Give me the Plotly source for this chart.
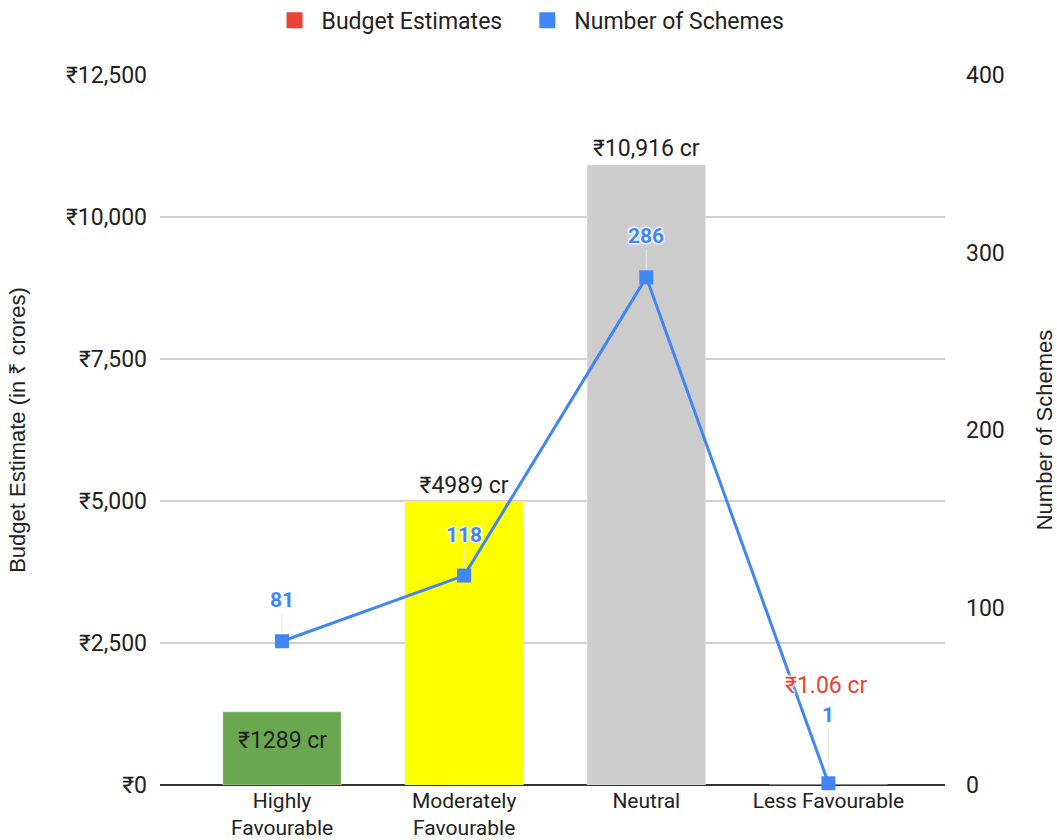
import plotly.graph_objects as go

categories = ["Highly<br>Favourable", "Moderately<br>Favourable", "Neutral", "Less Favourable"]
budget = [1289, 4989, 10916, 1.06]
budget_labels = ["₹1289 cr", "₹4989 cr", "₹10,916 cr", "₹1.06 cr"]
schemes = [81, 118, 286, 1]
bar_colors = ["#6aa84f", "#ffff00", "#cccccc", "#ea4335"]
left_ticks = [0, 2500, 5000, 7500, 10000, 12500]
left_tick_text = ["₹0", "₹2,500", "₹5,000", "₹7,500", "₹10,000", "₹12,500"]
right_ticks = [0, 100, 200, 300, 400]

BLUE = "#4285f4"
RED = "#ea4335"
FONT = "Roboto"
TXT = "#222222"
FS = 23

fig = go.Figure()

fig.add_trace(go.Bar(
    x=categories[:3], y=budget[:3], marker_color=bar_colors[:3],
    width=0.65, text=["", budget_labels[1], budget_labels[2]],
    textposition="outside",
    textfont=dict(family=FONT, size=FS, color=TXT),
    outsidetextfont=dict(family=FONT, size=FS, color=TXT),
    cliponaxis=False, showlegend=False, hoverinfo="skip",
))
fig.add_trace(go.Bar(
    x=categories[3:], y=budget[3:], marker_color=bar_colors[3:],
    width=0.65, showlegend=False, hoverinfo="skip",
))

fig.add_trace(go.Scatter(
    x=categories, y=schemes, yaxis="y2", mode="lines+markers",
    line=dict(color=BLUE, width=3),
    marker=dict(symbol="square", size=14, color=BLUE),
    showlegend=False, cliponaxis=False,
))

# legend-only entries
fig.add_trace(go.Scatter(x=[None], y=[None], mode="markers",
                         marker=dict(symbol="square", size=17, color=RED),
                         name="Budget Estimates", legend="legend"))
fig.add_trace(go.Scatter(x=[None], y=[None], mode="markers", yaxis="y2",
                         marker=dict(symbol="square", size=17, color=BLUE),
                         name="Number of Schemes", legend="legend2"))

HALO = "1px 1px 2px white, -1px -1px 2px white, 1px -1px 2px white, -1px 1px 2px white"

# label inside the first bar
fig.add_annotation(
    x=categories[0], y=budget[0], xref="x", yref="y", text=budget_labels[0],
    showarrow=False, yshift=-29,
    font=dict(family=FONT, size=FS, color=TXT),
)

# scheme labels
offsets = [-41, -41, -41, -68]
for c, v, off in zip(categories, schemes, offsets):
    fig.add_annotation(
        x=c, y=v, xref="x", yref="y2", text=str(v),
        showarrow=True, arrowhead=0, arrowwidth=1, arrowcolor="#e6e6e6",
        ax=0, ay=off, standoff=8,
        font=dict(family=FONT, size=21, color=BLUE, weight="bold", shadow=HALO),
    )

# label for tiny bar
fig.add_annotation(
    x=categories[3], y=1750, xref="x", yref="y", text=budget_labels[3],
    showarrow=False, xshift=-2,
    font=dict(family=FONT, size=FS, color=RED, shadow=HALO),
)

legend_common = dict(orientation="h", y=1.077, yref="paper", yanchor="middle",
                     xanchor="left", font=dict(family=FONT, size=FS, color=TXT),
                     itemwidth=44)

fig.update_layout(
    width=1057, height=840,
    paper_bgcolor="white", plot_bgcolor="white",
    margin=dict(l=160, r=112, t=75, b=55, autoexpand=False),
    font=dict(family=FONT, size=FS, color=TXT),
    legend=dict(x=0.137, **legend_common),
    legend2=dict(x=0.459, **legend_common),
    xaxis=dict(range=[-0.67, 3.64], showgrid=False, ticks="", showline=False,
               automargin=False,
               tickfont=dict(family=FONT, size=21, color=TXT), ticklabelstandoff=1),
    yaxis=dict(range=[0, 12500], tickvals=left_ticks, ticktext=left_tick_text,
               automargin=False,
               gridcolor="#d0d0d0", gridwidth=1.5, zeroline=True, zerolinecolor="#333333",
               zerolinewidth=2, ticklabelstandoff=12,
               tickfont=dict(family=FONT, size=FS, color=TXT),
               title=dict(text="Budget Estimate (in ₹ crores)", standoff=34,
                          font=dict(family="Liberation Sans", size=22, color=TXT))),
    yaxis2=dict(range=[0, 400], tickvals=right_ticks, overlaying="y", side="right",
                automargin=False,
                showgrid=False, zeroline=False, ticklabelstandoff=20,
                tickfont=dict(family=FONT, size=FS, color=TXT),
                title=dict(text="Number of Schemes", standoff=32,
                           font=dict(family="Liberation Sans", size=22, color=TXT))),
)

fig.write_html("out.html", config={"displayModeBar": False},
               post_script="document.body.style.margin='0';document.body.style.overflow='hidden';")
